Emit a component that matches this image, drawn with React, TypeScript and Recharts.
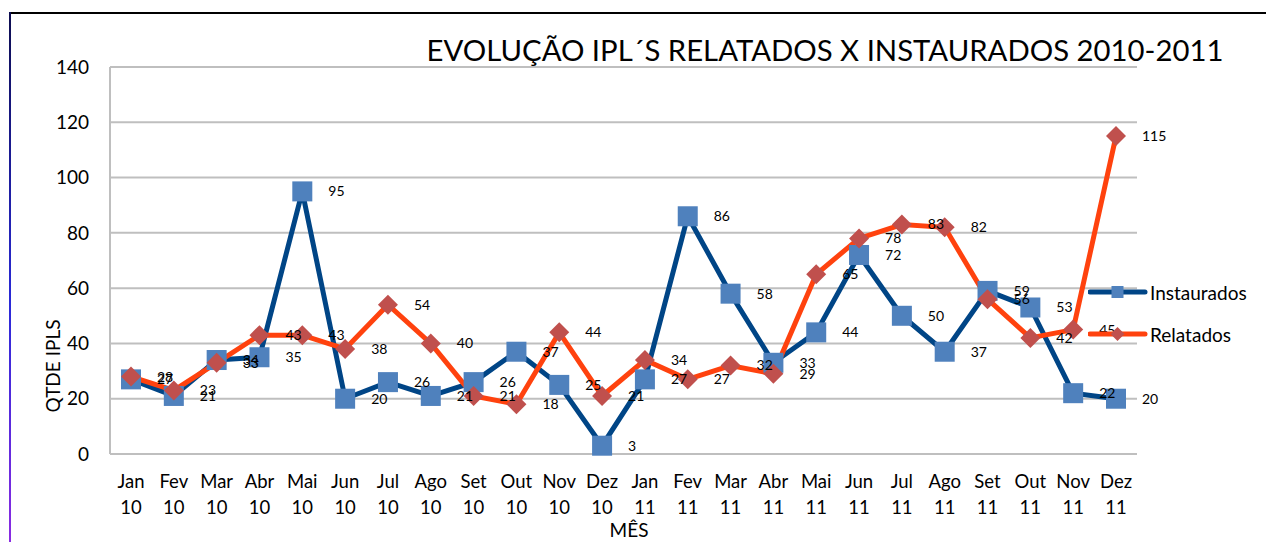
import React from 'react';
import { LineChart, Line, XAxis, YAxis, CartesianGrid, Legend } from 'recharts';

const categories = [
  'Jan 10', 'Fev 10', 'Mar 10', 'Abr 10', 'Mai 10', 'Jun 10', 'Jul 10', 'Ago 10', 'Set 10', 'Out 10', 'Nov 10', 'Dez 10',
  'Jan 11', 'Fev 11', 'Mar 11', 'Abr 11', 'Mai 11', 'Jun 11', 'Jul 11', 'Ago 11', 'Set 11', 'Out 11', 'Nov 11', 'Dez 11',
];
const instaurados = [27, 21, 34, 35, 95, 20, 26, 21, 26, 37, 25, 3, 27, 86, 58, 33, 44, 72, 50, 37, 59, 53, 22, 20];
const relatados = [28, 23, 33, 43, 43, 38, 54, 40, 21, 18, 44, 21, 34, 27, 32, 29, 65, 78, 83, 82, 56, 42, 45, 115];
const yTicks = [0, 20, 40, 60, 80, 100, 120, 140];

const title = 'EVOLUÇÃO IPL´S RELATADOS X INSTAURADOS 2010-2011';
const yLabel = 'QTDE IPLS';
const xLabel = 'MÊS';

const data = categories.map((c, i) => ({ cat: c, Instaurados: instaurados[i], Relatados: relatados[i] }));

const FONT = 'Lato, "Open Sans", sans-serif';
const BLUE_LINE = '#004586';
const BLUE_MARK = '#4F81BD';
const RED_LINE = '#FF420E';
const RED_MARK = '#C0504D';
const GRID = '#BFBFBF';

const XTick = (props: any) => {
  const { x, y, payload } = props;
  const [m, yr] = String(payload.value).split(' ');
  return (
    <g>
      <text x={x} y={y} textAnchor="middle" fontFamily={FONT} fontSize={18.5} fill="#000">
        <tspan x={x} dy={26}>{m}</tspan>
        <tspan x={x} dy={26}>{yr}</tspan>
      </text>
    </g>
  );
};

const SquareDot = (p: any) => {
  if (p.cx == null || p.cy == null) return <g key={p.index} />;
  return <rect key={p.index} x={p.cx - 10} y={p.cy - 10} width={20} height={20} fill={BLUE_MARK} />;
};

const DiamondDot = (p: any) => {
  if (p.cx == null || p.cy == null) return <g key={p.index} />;
  const { cx, cy } = p;
  return (
    <polygon
      key={p.index}
      points={`${cx},${cy - 10} ${cx + 10},${cy} ${cx},${cy + 10} ${cx - 10},${cy}`}
      fill={RED_MARK}
    />
  );
};

const renderLabel = (p: any) => (
  <text
    key={p.index}
    x={p.x + 26}
    y={p.y}
    dy="0.35em"
    textAnchor="start"
    fontFamily={FONT}
    fontSize={14}
    fill="#000"
  >
    {p.value}
  </text>
);

const LegendContent = () => (
  <div style={{ fontFamily: FONT, fontSize: 19, color: '#000' }}>
    {[
      { name: 'Instaurados', line: BLUE_LINE, mark: BLUE_MARK, shape: 'square' },
      { name: 'Relatados', line: RED_LINE, mark: RED_MARK, shape: 'diamond' },
    ].map((it) => (
      <div key={it.name} style={{ display: 'flex', alignItems: 'center', height: 42 }}>
        <svg width={60} height={20} style={{ display: 'block' }}>
          <line x1={2} y1={10} x2={57} y2={10} stroke={it.line} strokeWidth={5} strokeLinecap="round" />
          {it.shape === 'square' ? (
            <rect x={23.5} y={4} width={12} height={12} fill={it.mark} />
          ) : (
            <polygon points="29.5,3 36.5,10 29.5,17 22.5,10" fill={it.mark} />
          )}
        </svg>
        <span style={{ marginLeft: 2 }}>{it.name}</span>
      </div>
    ))}
  </div>
);

export default function App() {
  return (
    <div style={{ position: 'absolute', left: 0, top: 0, width: 1266, height: 542, background: '#fff' }}>
      <div
        style={{
          position: 'absolute',
          left: 10,
          top: 12,
          width: 1256,
          height: 0,
          borderTop: '2px solid #000',
        }}
      />
      <div
        style={{
          position: 'absolute',
          left: 9,
          top: 12,
          width: 2,
          height: 530,
          background: 'linear-gradient(to bottom, #0d0d50, #2a2ad8 55%, #8a2be2)',
        }}
      />
      <div
        style={{
          position: 'absolute',
          left: 325,
          top: 34,
          width: 1000,
          textAlign: 'center',
          fontFamily: FONT,
          fontSize: 29.3,
          lineHeight: '32px',
          color: '#000',
          whiteSpace: 'nowrap',
        }}
      >
        {title}
      </div>
      <div style={{ position: 'absolute', left: 0, top: 0 }}>
        <LineChart
          width={1266}
          height={542}
          data={data}
          margin={{ top: 67, right: 129, left: 50, bottom: 28 }}
        >
          <CartesianGrid horizontal vertical={false} stroke={GRID} strokeWidth={2} />
          <XAxis
            dataKey="cat"
            interval={0}
            padding={{ left: 21, right: 21 }}
            height={60}
            axisLine={{ stroke: GRID, strokeWidth: 2 }}
            tickLine={false}
            tick={<XTick />}
            label={() => (
              <text x={629} y={530} dy="0.35em" textAnchor="middle" fontFamily={FONT} fontSize={19} fill="#000">
                {xLabel}
              </text>
            )}
          />
          <YAxis
            width={60}
            domain={[0, 140]}
            ticks={yTicks}
            interval={0}
            axisLine={{ stroke: GRID, strokeWidth: 2 }}
            tickLine={false}
            tickSize={6}
            tickMargin={15}
            tick={{ fontFamily: FONT, fontSize: 19, fill: '#000' }}
            label={() => (
              <text
                x={53}
                y={366}
                dy="0.35em"
                textAnchor="middle"
                transform="rotate(-90 53 366)"
                fontFamily={FONT}
                fontSize={19}
                fill="#000"
              >
                {yLabel}
              </text>
            )}
          />
          <YAxis
            yAxisId="frame"
            orientation="right"
            width={0}
            domain={[0, 140]}
            tick={false}
            tickLine={false}
            axisLine={{ stroke: GRID, strokeWidth: 2 }}
          />
          <Legend
            layout="horizontal"
            verticalAlign="middle"
            align="center"
            content={<LegendContent />}
            wrapperStyle={{ position: 'absolute', left: 1088, top: 271, width: 178 }}
          />
          <Line
            dataKey="Instaurados"
            stroke={BLUE_LINE}
            strokeWidth={5}
            dot={SquareDot}
            activeDot={false}
            label={renderLabel}
            isAnimationActive={false}
          />
          <Line
            dataKey="Relatados"
            stroke={RED_LINE}
            strokeWidth={5}
            dot={DiamondDot}
            activeDot={false}
            label={renderLabel}
            isAnimationActive={false}
          />
        </LineChart>
      </div>
    </div>
  );
}
